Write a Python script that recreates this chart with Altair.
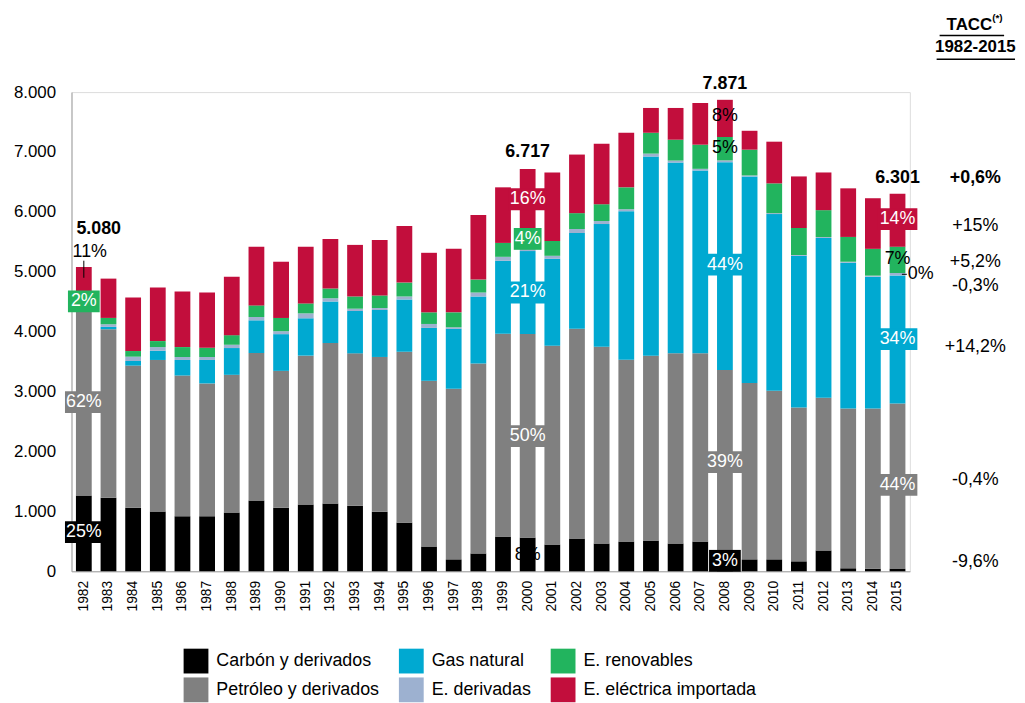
import altair as alt
import pandas as pd

FONT = "Liberation Sans"

years = list(range(1982, 2016))
carbon     = [1265, 1226, 1060, 1000,  917,  917,  983, 1181, 1060, 1115, 1132, 1093,  994,  812,  414,  199,  298,  580,  563,  447,  547,  464,  497,  513,  464,  497,  250,  199,  199,  166,  348,   50,   45,   40]
petroleo   = [3150, 2815, 2374, 2528, 2351, 2219, 2297, 2463, 2286, 2485, 2678, 2545, 2584, 2854, 2766, 2849, 3169, 3384, 3400, 3318, 3500, 3284, 3036, 3087, 3174, 3141, 3110, 2943, 2815, 2567, 2551, 2666, 2671, 2760]
gas        = [   0,   39,   77,  154,  260,  392,  447,  546,  613,  624,  695,  707,  784,  872,  883,  999, 1121, 1220, 1382, 1452, 1601, 2049, 2479, 3323, 3186, 3053, 3470, 3450, 2949, 2534, 2666, 2435, 2203, 2140]
derivadas  = [  30,   44,   72,   61,   49,   49,   55,   55,   49,   82,   55,   39,   33,   50,   66,   27,   66,   66,   55,   50,   66,   50,   33,   50,   33,   28,   30,   17,   16,   13,   15,   17,   17,   40]
renovables = [  80,  106,   94,  100,  166,  155,  160,  194,  221,  166,  160,  204,  210,  232,  194,  249,  216,  232,  260,  249,  265,  281,  365,  348,  348,  403,  390,  430,  497,  451,  449,  414,  447,  440]
importada  = [ 555,  656,  894,  894,  928,  922,  977,  977,  939,  944,  829,  861,  927,  944,  994, 1060, 1076,  928, 1057, 1142,  978, 1011,  911,  414,  530,  696,  621,  315,  696,  861,  629,  811,  845,  881]

series_names = ["Carbón y derivados", "Petróleo y derivados", "Gas natural",
                "E. derivadas", "E. renovables", "E. eléctrica importada"]
series_vals = [carbon, petroleo, gas, derivadas, renovables, importada]
series_colors = ["#000000", "#808080", "#00A9D1", "#9DB1D0", "#22B45E", "#C20E3C"]

# boxed labels (white text on coloured box)
box_years = [1982, 1982, 1982, 2000, 2000, 2000, 2000, 2008, 2008, 2008, 2015, 2015, 2015]
box_centers = [654, 2824, 4505, 6211, 5549, 4654, 2258, 5121, 1822, 175, 5880, 3876, 1441]
box_texts = ["25%", "62%", "2%", "16%", "4%", "21%", "50%", "44%", "39%", "3%", "14%", "34%", "44%"]
box_colors = ["#000000", "#808080", "#22B45E", "#C20E3C", "#22B45E", "#00A9D1", "#808080",
              "#00A9D1", "#808080", "#000000", "#C20E3C", "#00A9D1", "#808080"]
box_widths = [38, 38, 32, 38, 28, 38, 38, 36, 36, 32, 40, 40, 40]

# plain black labels
blk_years = [2000, 2008, 2008, 2015]
blk_vals = [270, 7603, 7072, 5217]
blk_texts = ["8%", "8%", "5%", "7%"]

# totals
tot_years = [2000, 2008, 2015]
tot_vals = [7006, 8132, 6559]
tot_texts = ["6.717", "7.871", "6.301"]

# TACC column
tacc_texts = ["+0,6%", "+15%", "+5,2%", "-0,3%", "+14,2%", "-0,4%", "-9,6%"]
tacc_vals = [6559, 5764, 5168, 4754, 3743, 1524, 149]
tacc_bold = [True, False, False, False, False, False, False]

rows = []
for i, yr in enumerate(years):
    for k, name in enumerate(series_names):
        rows.append({"year": yr, "fuente": name, "valor": series_vals[k][i], "orden": k})
df = pd.DataFrame(rows)

YS = alt.Scale(domain=[0, 8000], nice=False)
XS = alt.Scale(paddingInner=0.36, paddingOuter=0.18)

bars = alt.Chart(df).mark_bar().encode(
    x=alt.X("year:O", scale=XS, title=None,
            axis=alt.Axis(labelAngle=-90, labelFontSize=14, labelPadding=9, ticks=False,
                          domainColor="#A0A0A0", labelColor="#000000", labelFont=FONT)),
    y=alt.Y("valor:Q", stack="zero", scale=YS, title=None,
            axis=alt.Axis(values=list(range(0, 8001, 500)), grid=False, ticks=False,
                          labelExpr="replace(format(datum.value, ','), ',', '.')",
                          labelFontSize=17, labelPadding=16, domainColor="#A0A0A0",
                          labelColor="#000000", labelFont=FONT)),
    color=alt.Color("fuente:N",
                    scale=alt.Scale(domain=series_names, range=series_colors),
                    legend=alt.Legend(orient="none", legendX=113, legendY=561, columns=3,
                                      symbolType="square", symbolSize=625, symbolStrokeWidth=0,
                                      labelFontSize=18, labelFont=FONT, labelColor="#000000",
                                      columnPadding=19, rowPadding=4, title=None, labelLimit=0,
                                      labelOffset=8, padding=0)),
    order=alt.Order("orden:Q", sort="ascending"),
)

box_df = pd.DataFrame({"year": box_years, "yc": box_centers, "txt": box_texts,
                       "col": box_colors, "w": box_widths})
box_df["lo"] = box_df["yc"] - 182
box_df["hi"] = box_df["yc"] + 182

boxes = alt.Chart(box_df).mark_bar().encode(
    x=alt.X("year:O", title=None), y=alt.Y("lo:Q", scale=YS, title=None), y2="hi:Q",
    fill=alt.Fill("col:N", scale=None), size=alt.Size("w:Q", scale=None))
box_txt = alt.Chart(box_df).mark_text(color="white", fontSize=18, font=FONT, baseline="middle").encode(
    x=alt.X("year:O", title=None), y=alt.Y("yc:Q", scale=YS, title=None), text="txt:N")

blk_df = pd.DataFrame({"year": blk_years, "v": blk_vals, "txt": blk_texts})
blk_txt = alt.Chart(blk_df).mark_text(color="black", fontSize=18, font=FONT, baseline="middle").encode(
    x=alt.X("year:O", title=None), y=alt.Y("v:Q", scale=YS, title=None), text="txt:N")

# 1982 labels (offset to the right of the bar)
d82 = pd.DataFrame({"year": [1982], "v": [5333], "t": [5714], "lo": [4900], "hi": [5185]})
t82 = alt.Chart(d82).mark_text(color="black", fontSize=18, font=FONT, baseline="middle", dx=6).encode(
    x=alt.X("year:O", title=None), y=alt.Y("v:Q", scale=YS, title=None), text=alt.value("11%"))
tot82 = alt.Chart(d82).mark_text(color="black", fontSize=18, fontWeight="bold", font=FONT,
                                 baseline="middle", dx=15).encode(
    x=alt.X("year:O", title=None), y=alt.Y("t:Q", scale=YS, title=None), text=alt.value("5.080"))
rule82 = alt.Chart(d82).mark_rule(color="black", strokeWidth=1).encode(
    x=alt.X("year:O", title=None), y=alt.Y("lo:Q", scale=YS, title=None), y2="hi:Q")

tot_df = pd.DataFrame({"year": tot_years, "v": tot_vals, "txt": tot_texts})
tot_txt = alt.Chart(tot_df).mark_text(color="black", fontSize=18, fontWeight="bold", font=FONT,
                                      baseline="middle").encode(
    x=alt.X("year:O", title=None), y=alt.Y("v:Q", scale=YS, title=None), text="txt:N")

# 0% label of 2015 with small leader
d0 = pd.DataFrame({"v": [4958]})
rule0 = alt.Chart(d0).mark_rule(color="black", strokeWidth=1).encode(
    x=alt.value(837), x2=alt.value(842), y=alt.Y("v:Q", scale=YS, title=None))
txt0 = alt.Chart(d0).mark_text(color="black", fontSize=18, font=FONT, baseline="middle", align="left").encode(
    x=alt.value(843), y=alt.Y("v:Q", scale=YS, title=None), text=alt.value("0%"))

tacc_df = pd.DataFrame({"v": tacc_vals, "txt": tacc_texts, "b": tacc_bold})
tacc_n = alt.Chart(tacc_df[~tacc_df["b"]]).mark_text(color="black", fontSize=18, font=FONT,
                                                     baseline="middle").encode(
    x=alt.value(911), y=alt.Y("v:Q", scale=YS, title=None), text="txt:N")
tacc_b = alt.Chart(tacc_df[tacc_df["b"]]).mark_text(color="black", fontSize=18, fontWeight="bold",
                                                    font=FONT, baseline="middle").encode(
    x=alt.value(911), y=alt.Y("v:Q", scale=YS, title=None), text="txt:N")

one = pd.DataFrame({"k": [0]})
h1 = alt.Chart(one).mark_text(color="black", fontSize=17, fontWeight="bold", font=FONT,
                              baseline="middle", align="right").encode(
    x=alt.value(928), y=alt.value(-68), text=alt.value("TACC"))
h1s = alt.Chart(one).mark_text(color="black", fontSize=10, fontWeight="bold", font=FONT,
                               baseline="middle", align="left").encode(
    x=alt.value(928), y=alt.value(-75), text=alt.value("(*)"))
h2 = alt.Chart(one).mark_text(color="black", fontSize=17, fontWeight="bold", font=FONT,
                              baseline="middle").encode(
    x=alt.value(911), y=alt.value(-45), text=alt.value("1982-2015"))
u1 = alt.Chart(one).mark_rule(color="black", strokeWidth=1.5).encode(
    x=alt.value(875), x2=alt.value(940), y=alt.value(-57))
u2 = alt.Chart(one).mark_rule(color="black", strokeWidth=1.5).encode(
    x=alt.value(872), x2=alt.value(951), y=alt.value(-33))

chart = alt.layer(
    bars, boxes, box_txt, blk_txt, t82, tot82, rule82, tot_txt, rule0, txt0,
    tacc_n, tacc_b, h1, h1s, h2, u1, u2
).properties(
    width=845, height=483,
    padding={"left": 64, "top": 82, "right": 108, "bottom": 130},
    autosize=alt.AutoSizeParams(type="none"),
).configure_view(stroke=None).configure(font=FONT)

chart.save("out.html", embed_options={"renderer": "svg", "actions": False})
